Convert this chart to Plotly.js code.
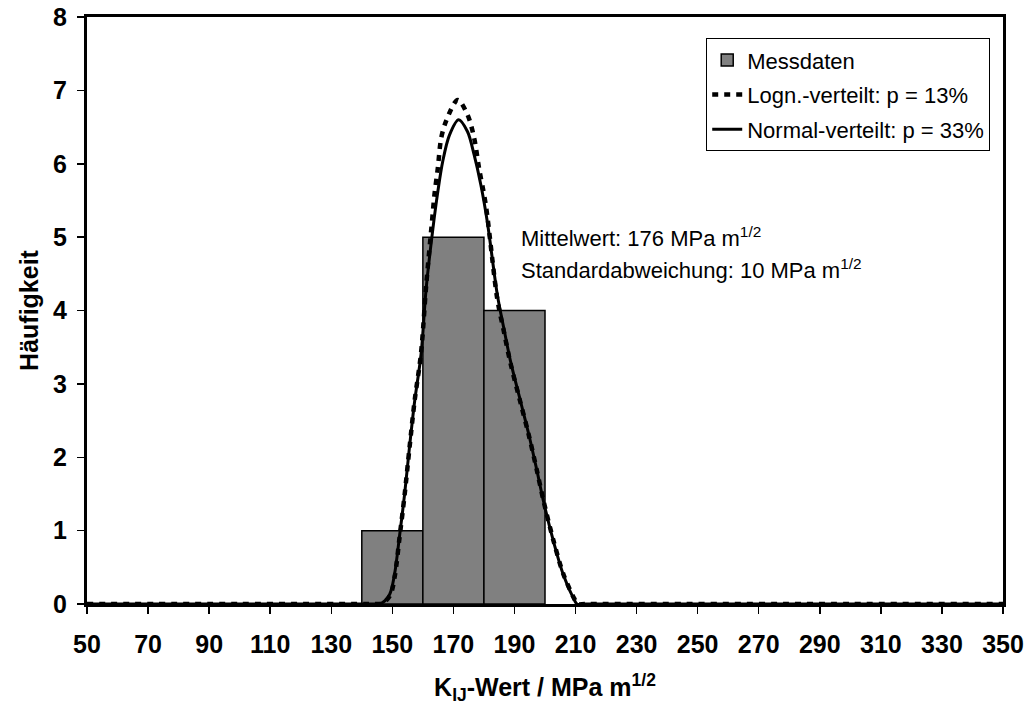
<!DOCTYPE html>
<html>
<head>
<meta charset="utf-8">
<script src="https://cdn.plot.ly/plotly-3.0.1.min.js"></script>
<style>html,body{margin:0;padding:0;background:#fff;} #chart{width:1029px;height:711px;}</style>
</head>
<body>
<div id="chart"></div>
<script>
// Histogram (Messdaten)
const binCenters = [150, 170, 190];
const binCounts = [1, 5, 4];
const binWidth = 20;

// Normal-verteilt curve
const normalX = [50, 100, 140, 144, 146.4, 149.1, 150.7, 152.4, 154.0, 155.6, 157.3, 159.4, 161.1, 163.3, 164.9, 166.5, 168.7, 171.7, 174.6, 176.8, 179.0, 181.1, 184.4, 186.5, 188.7, 192.0, 194.7, 197.4, 199.5, 202.8, 206.0, 209.3, 210.5, 213, 220, 300, 350];
const normalY = [0, 0, 0, 0, 0.01, 0.13, 0.40, 0.94, 1.49, 2.13, 2.76, 3.40, 4.31, 5.12, 5.62, 6.03, 6.39, 6.60, 6.44, 6.12, 5.71, 5.21, 4.21, 3.76, 3.31, 2.76, 2.31, 1.81, 1.40, 0.85, 0.40, 0.08, 0, 0, 0, 0, 0];

// Logn.-verteilt curve
const lognX = [50, 100, 140, 144, 146.8, 149.3, 150.8, 152.4, 154.0, 155.6, 157.3, 159.4, 161.1, 163.0, 163.8, 164.9, 166.0, 167.6, 171.4, 174.6, 176.8, 178.4, 180.6, 184.4, 186.5, 188.7, 192.0, 194.7, 197.4, 199.5, 202.8, 206.0, 209.5, 210.7, 213, 220, 300, 350];
const lognY = [0, 0, 0, 0, 0.01, 0.12, 0.38, 0.92, 1.48, 2.12, 2.77, 3.42, 4.35, 5.22, 5.58, 5.94, 6.35, 6.58, 6.87, 6.67, 6.35, 5.94, 5.44, 4.15, 3.72, 3.28, 2.74, 2.30, 1.81, 1.41, 0.86, 0.41, 0.08, 0, 0, 0, 0, 0];

const xTicks = [50, 70, 90, 110, 130, 150, 170, 190, 210, 230, 250, 270, 290, 310, 330, 350];
const yTicks = [0, 1, 2, 3, 4, 5, 6, 7, 8];

const legendNames = ['Messdaten', 'Logn.-verteilt: p = 13%', 'Normal-verteilt: p = 33%'];
const noteLines = ['Mittelwert: 176 MPa m<sup>1/2</sup>', 'Standardabweichung: 10 MPa m<sup>1/2</sup>'];
const noteX = 191.5;
const noteY = [5.0, 4.56];

const FONT = '"Liberation Sans", Arial, sans-serif';

const traces = [
  {
    type: 'bar', x: binCenters, y: binCounts, width: binWidth, name: legendNames[0],
    marker: {color: '#808080', line: {color: '#000', width: 1.5}},
    legendgroup: 'a'
  },
  {
    type: 'scatter', mode: 'lines', x: lognX, y: lognY, name: legendNames[1],
    line: {color: '#000', width: 4.5, dash: '6px,6px', shape: 'spline', smoothing: 0.9},
    legendgroup: 'b'
  },
  {
    type: 'scatter', mode: 'lines', x: normalX, y: normalY, name: legendNames[2],
    line: {color: '#000', width: 3, shape: 'spline', smoothing: 0.9},
    legendgroup: 'c'
  }
];

const layout = {
  width: 1029, height: 711,
  margin: {l: 87, r: 26, t: 17, b: 107},
  paper_bgcolor: '#fff', plot_bgcolor: '#fff',
  font: {family: FONT, color: '#000'},
  bargap: 0,
  showlegend: true,
  legend: {
    x: 0.676, y: 0.964, xanchor: 'left', yanchor: 'top',
    bordercolor: '#000', borderwidth: 1, bgcolor: '#fff',
    font: {family: FONT, size: 22, color: '#000'},
    tracegroupgap: 3, traceorder: 'grouped'
  },
  xaxis: {
    range: [50, 350], tickmode: 'array', tickvals: xTicks, ticktext: xTicks.map(String),
    showline: true, linecolor: '#000', linewidth: 3, mirror: true,
    ticks: 'outside', ticklen: 7, tickwidth: 1.5, tickcolor: '#000',
    showgrid: false, zeroline: false,
    tickfont: {family: FONT, size: 25, color: '#000', weight: 'bold'},
    ticklabelstandoff: 9,
    title: {text: '<b>K<sub>IJ</sub>-Wert / MPa m<sup>1/2</sup></b>', font: {family: FONT, size: 25, color: '#000'}, standoff: 22}
  },
  yaxis: {
    range: [0, 8], tickmode: 'array', tickvals: yTicks, ticktext: yTicks.map(String),
    showline: true, linecolor: '#000', linewidth: 3, mirror: true,
    ticks: 'outside', ticklen: 7, tickwidth: 1.5, tickcolor: '#000',
    showgrid: false, zeroline: false,
    tickfont: {family: FONT, size: 25, color: '#000', weight: 'bold'},
    ticklabelstandoff: 5,
    title: {text: '<b>Häufigkeit</b>', font: {family: FONT, size: 25, color: '#000'}, standoff: 8}
  },
  annotations: noteLines.map((t, i) => ({
    x: noteX, y: noteY[i], xref: 'x', yref: 'y', text: t, showarrow: false,
    xanchor: 'left', yanchor: 'middle',
    font: {family: FONT, size: 22, color: '#000'}
  }))
};

Plotly.newPlot('chart', traces, layout, {displayModeBar: false, staticPlot: true});
</script>
</body>
</html>
